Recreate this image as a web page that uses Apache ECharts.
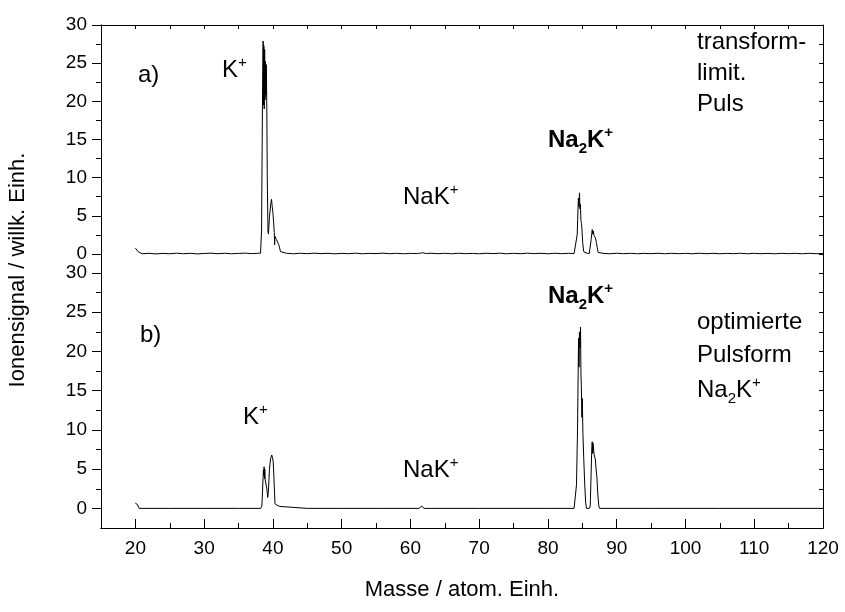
<!DOCTYPE html>
<html>
<head>
<meta charset="utf-8">
<script src="https://cdn.jsdelivr.net/npm/echarts@6/dist/echarts.min.js"></script>
<style>
  html, body { margin: 0; padding: 0; background: #fff; }
  #chart { width: 845px; height: 612px; }
</style>
</head>
<body>
<div id="chart"></div>
<script>
// Mass axis ticks (atomic mass units)
const massLabels = [20, 30, 40, 50, 60, 70, 80, 90, 100, 110, 120];
const massMinor = [15, 25, 35, 45, 55, 65, 75, 85, 95, 105, 115];
const massTopTicks = [15, 20, 25, 30, 35, 40, 45, 50, 55, 60, 65, 70, 75, 80, 85, 90, 95, 100, 105, 110, 115, 120];

// Signal axis ticks (arbitrary units)
const signalLabels = [0, 5, 10, 15, 20, 25, 30];
const signalMinor = [2.5, 7.5, 12.5, 17.5, 22.5, 27.5];
const signalAllTicks = [0, 2.5, 5, 7.5, 10, 12.5, 15, 17.5, 20, 22.5, 25, 27.5, 30];

// a) transform-limited pulse: [mass, ion signal]
const spectrumA = [
  [20.0, 0.75], [20.2, 0.6], [20.4, 0.3], [20.5, 0.05], [21.0, 0.02], [22.0, 0.08],
  [23.0, 0.0], [24.0, 0.07], [25.0, 0.02], [26.0, 0.1], [27.0, 0.03], [28.0, 0.08],
  [29.0, 0.0], [30.0, 0.06], [31.0, 0.1], [32.0, 0.03], [33.0, 0.09], [34.0, 0.02],
  [35.0, 0.07], [36.0, 0.1], [37.0, 0.04], [37.8, 0.08], [38.2, 0.1],
  [38.35, 3.0], [38.5, 22.0], [38.58, 27.9], [38.62, 19.5], [38.68, 27.3], [38.74, 19.0],
  [38.8, 26.8], [38.86, 20.2], [38.92, 25.2], [38.98, 20.8], [39.05, 24.8], [39.12, 18.5],
  [39.18, 10.0], [39.28, 3.0], [39.35, 2.6], [39.5, 4.8], [39.68, 6.5], [39.8, 7.15],
  [39.9, 6.2], [40.0, 5.4], [40.1, 4.2], [40.2, 2.8], [40.25, 1.2], [40.3, 2.3],
  [40.4, 2.2], [40.5, 1.9], [40.55, 2.1], [40.65, 1.7], [40.75, 1.8], [40.85, 1.2],
  [40.95, 0.9], [41.1, 0.3], [41.3, 0.05],
  [42.0, 0.08], [43.0, 0.02], [44.0, 0.09], [45.0, 0.03], [46.0, 0.1], [47.0, 0.04],
  [48.0, 0.08], [49.0, 0.01], [50.0, 0.07], [51.0, 0.03], [52.0, 0.1], [53.0, 0.02],
  [54.0, 0.07], [55.0, 0.04], [56.0, 0.1], [57.0, 0.03], [58.0, 0.08], [59.0, 0.02],
  [60.0, 0.07], [61.0, 0.05], [61.3, 0.08], [61.55, 0.3], [61.75, 0.15], [62.0, 0.1],
  [62.3, 0.05], [63.0, 0.09], [64.0, 0.03], [65.0, 0.08], [66.0, 0.02], [67.0, 0.09],
  [68.0, 0.03], [69.0, 0.07], [70.0, 0.02], [71.0, 0.09], [72.0, 0.04], [73.0, 0.1],
  [74.0, 0.02], [75.0, 0.08], [76.0, 0.03], [77.0, 0.1], [78.0, 0.04], [79.0, 0.08],
  [80.0, 0.02], [81.0, 0.09], [82.0, 0.03], [83.0, 0.08], [83.8, 0.05],
  [84.05, 0.1], [84.25, 2.5], [84.42, 7.3], [84.5, 6.2], [84.59, 8.0], [84.65, 5.9],
  [84.72, 6.5], [84.79, 4.4], [84.88, 4.0], [84.94, 3.3], [85.05, 1.5], [85.2, 0.3],
  [85.3, 0.05], [85.7, 0.08], [86.0, 0.05], [86.15, 0.3], [86.3, 2.0], [86.44, 3.2],
  [86.52, 2.6], [86.6, 3.0], [86.7, 2.4], [86.8, 2.5], [86.9, 2.1], [87.05, 1.5],
  [87.15, 0.9], [87.3, 0.2], [87.45, 0.05],
  [88.0, 0.08], [89.0, 0.02], [90.0, 0.09], [91.0, 0.03], [92.0, 0.08], [93.0, 0.02],
  [94.0, 0.07], [95.0, 0.03], [96.0, 0.09], [97.0, 0.02], [98.0, 0.08], [99.0, 0.03],
  [100.0, 0.07], [101.0, 0.02], [102.0, 0.09], [103.0, 0.03], [104.0, 0.08], [105.0, 0.02],
  [106.0, 0.07], [107.0, 0.03], [108.0, 0.09], [109.0, 0.02], [110.0, 0.08], [111.0, 0.03],
  [112.0, 0.07], [113.0, 0.02], [114.0, 0.08], [115.0, 0.03], [116.0, 0.07], [117.0, 0.02],
  [118.0, 0.08], [119.0, 0.03], [120.0, 0.06]
];

// b) optimised pulse shape for Na2K+: [mass, ion signal]
const spectrumB = [
  [20.0, 0.65], [20.3, 0.5], [20.55, 0.0], [25.0, 0.0], [30.0, 0.0], [35.0, 0.0],
  [38.2, 0.0], [38.4, 0.3], [38.55, 3.5], [38.62, 4.9], [38.67, 4.2], [38.72, 5.3],
  [38.77, 3.8], [38.82, 5.0], [38.88, 3.6], [38.96, 3.5], [39.1, 2.6], [39.25, 1.4],
  [39.35, 2.2], [39.5, 5.0], [39.65, 6.3], [39.83, 6.8], [39.95, 6.4], [40.05, 5.9],
  [40.17, 3.5], [40.3, 0.6], [40.45, 0.35], [40.6, 0.4], [40.8, 0.3], [41.0, 0.25],
  [41.15, 0.0], [45.0, 0.0], [50.0, 0.0], [55.0, 0.0], [61.3, 0.0], [61.6, 0.3],
  [61.8, 0.1], [62.0, 0.0], [70.0, 0.0], [80.0, 0.0], [83.8, 0.0],
  [83.97, 0.1], [84.15, 3.0], [84.3, 10.0], [84.45, 21.7], [84.52, 18.0], [84.58, 22.5],
  [84.66, 20.5], [84.74, 23.1], [84.8, 17.0], [84.85, 15.8], [84.9, 13.5], [84.94, 11.6],
  [85.0, 14.0], [85.08, 9.7], [85.2, 6.5], [85.35, 3.0], [85.48, 0.8], [85.6, 0.0],
  [86.0, 0.0], [86.15, 0.3], [86.28, 4.5], [86.38, 7.8], [86.44, 8.5], [86.5, 7.0],
  [86.56, 8.3], [86.63, 8.25], [86.72, 6.8], [86.8, 7.0], [86.88, 6.3], [87.0, 5.0],
  [87.12, 3.95], [87.25, 1.8], [87.4, 0.3], [87.5, 0.0], [95.0, 0.0], [105.0, 0.0],
  [120.0, 0.0]
];

const FONT = '"Liberation Sans", Arial, sans-serif';
const INK = '#000';

const chart = echarts.init(document.getElementById('chart'), null, { renderer: 'canvas' });

const lineAxis = { show: true, onZero: false, lineStyle: { color: INK, width: 1 } };

function massAxis(gridIndex, position, ticks, len, labels) {
  return {
    type: 'value', gridIndex, position, min: 15, max: 120,
    axisLine: lineAxis,
    axisTick: { show: true, inside: true, length: len, customValues: ticks, lineStyle: { color: INK, width: 1 } },
    axisLabel: labels
      ? { show: true, customValues: labels, margin: 11, color: INK, fontSize: 19, fontFamily: FONT }
      : { show: false },
    splitLine: { show: false }
  };
}

function signalAxis(gridIndex, position, ticks, len, inside, labels) {
  return {
    type: 'value', gridIndex, position, min: -2.5, max: 30,
    axisLine: lineAxis,
    axisTick: { show: true, inside, length: len, customValues: ticks, lineStyle: { color: INK, width: 1 } },
    axisLabel: labels
      ? { show: true, customValues: labels, margin: 14, color: INK, fontSize: 19, fontFamily: FONT }
      : { show: false },
    splitLine: { show: false }
  };
}

function plainText(x, y, text) {
  return {
    type: 'text', x, y,
    style: { text, fontSize: 24, fontFamily: FONT, fill: INK, verticalAlign: 'middle' }
  };
}

function richText(x, y, text, bold) {
  const w = bold ? 'bold' : 'normal';
  return {
    type: 'text', x, y,
    style: {
      text, fill: INK, fontFamily: FONT, verticalAlign: 'middle',
      rich: {
        m: { fontSize: 24, fontWeight: w, fontFamily: FONT, fill: INK },
        sub: { fontSize: 15, fontWeight: w, fontFamily: FONT, fill: INK, padding: [18, 0, 0, 0] },
        sup: { fontSize: 15, fontWeight: w, fontFamily: FONT, fill: INK, padding: [0, 0, 14, 0] }
      }
    }
  };
}

const option = {
  animation: false,
  backgroundColor: '#fff',
  grid: [
    { left: 101, right: 22, top: 25, height: 248 },
    { left: 101, right: 22, top: 273, height: 255 }
  ],
  xAxis: [
    massAxis(0, 'top', massTopTicks, 4, null),
    massAxis(1, 'bottom', massLabels, 9, massLabels),
    massAxis(1, 'bottom', massMinor, 5, null)
  ],
  yAxis: [
    signalAxis(0, 'left', signalLabels, 9, false, signalLabels),
    signalAxis(0, 'left', signalMinor, 5, false, null),
    signalAxis(0, 'right', signalAllTicks, 4, true, null),
    signalAxis(1, 'left', signalLabels, 9, false, signalLabels),
    signalAxis(1, 'left', signalMinor, 5, false, null),
    signalAxis(1, 'right', signalAllTicks, 4, true, null)
  ],
  series: [
    {
      type: 'line', xAxisIndex: 0, yAxisIndex: 0, data: spectrumA,
      showSymbol: false, symbol: 'none', clip: true,
      lineStyle: { color: INK, width: 1 }
    },
    {
      type: 'line', xAxisIndex: 1, yAxisIndex: 3, data: spectrumB,
      showSymbol: false, symbol: 'none', clip: true,
      lineStyle: { color: INK, width: 1 }
    }
  ],
  graphic: [
    // panel a)
    plainText(138, 75, 'a)'),
    richText(222, 70, '{m|K}{sup|+}', false),
    richText(403, 197, '{m|NaK}{sup|+}', false),
    richText(548, 140, '{m|Na}{sub|2}{m|K}{sup|+}', true),
    plainText(697, 42, 'transform-'),
    plainText(697, 73, 'limit.'),
    plainText(697, 104, 'Puls'),
    // panel b)
    plainText(140, 335, 'b)'),
    richText(243, 417, '{m|K}{sup|+}', false),
    richText(403, 470, '{m|NaK}{sup|+}', false),
    richText(548, 296, '{m|Na}{sub|2}{m|K}{sup|+}', true),
    plainText(697, 322, 'optimierte'),
    plainText(697, 355, 'Pulsform'),
    richText(697, 390, '{m|Na}{sub|2}{m|K}{sup|+}', false),
    // axis titles
    {
      type: 'text', x: 18, y: 270, rotation: Math.PI / 2,
      style: { text: 'Ionensignal / willk. Einh.', fontSize: 22, fontFamily: FONT, fill: INK, align: 'center', verticalAlign: 'middle' }
    },
    {
      type: 'text', x: 462, y: 590,
      style: { text: 'Masse / atom. Einh.', fontSize: 22, fontFamily: FONT, fill: INK, align: 'center', verticalAlign: 'middle' }
    }
  ]
};

chart.setOption(option);
</script>
</body>
</html>
